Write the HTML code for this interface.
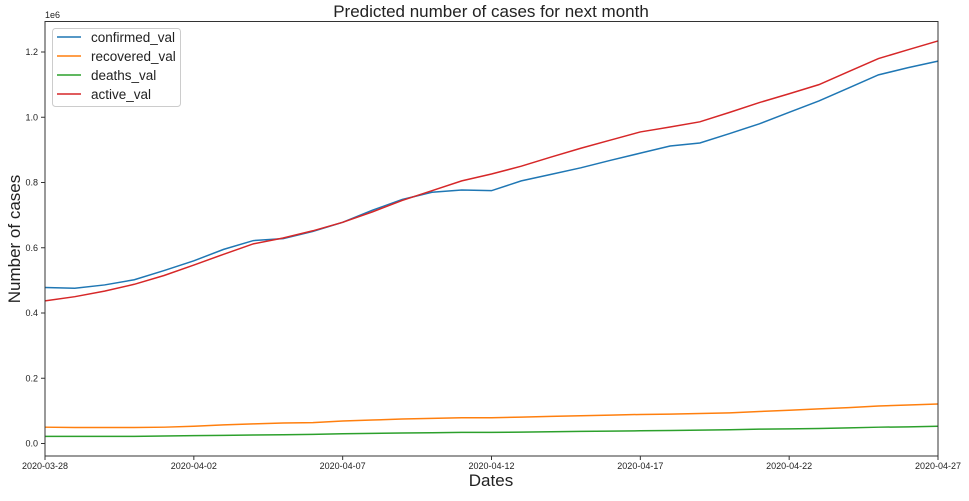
<!DOCTYPE html>
<html><head><meta charset="utf-8"><style>
body{margin:0;background:#fff;}
svg text{font-family:"Liberation Sans","DejaVu Sans",sans-serif;fill:#222;}
</style></head><body>
<svg id="chart" width="969" height="496" xmlns="http://www.w3.org/2000/svg">
<text x="491" y="17" text-anchor="middle" font-size="17">Predicted number of cases for next month</text>
<text x="491" y="486" text-anchor="middle" font-size="17">Dates</text>
<text transform="translate(20,239) rotate(-90)" text-anchor="middle" font-size="17">Number of cases</text>
<text x="45" y="18" font-size="9">1e6</text>
<g id="grid"></g>
<g id="series"></g>
<rect x="45" y="21.5" width="893" height="434.5" fill="none" stroke="#333" stroke-width="1"/>
<g>
<rect x="52.5" y="28.5" width="128" height="78" rx="3" fill="#fff" stroke="#ccc"/>
<g><line x1="57" y1="37" x2="81" y2="37" stroke="#1f77b4" stroke-width="1.5"/><text x="91" y="42" font-size="13.5">confirmed_val</text></g>
<g><line x1="57" y1="56" x2="81" y2="56" stroke="#ff7f0e" stroke-width="1.5"/><text x="91" y="61" font-size="13.5">recovered_val</text></g>
<g><line x1="57" y1="75" x2="81" y2="75" stroke="#2ca02c" stroke-width="1.5"/><text x="91" y="80" font-size="13.5">deaths_val</text></g>
<g><line x1="57" y1="94" x2="81" y2="94" stroke="#d62728" stroke-width="1.5"/><text x="91" y="99" font-size="13.5">active_val</text></g>
</g>
</svg>
<script>
const xTickLabels=["2020-03-28","2020-04-02","2020-04-07","2020-04-12","2020-04-17","2020-04-22","2020-04-27"];
const yTicks=[0,0.2,0.4,0.6,0.8,1.0,1.2];
const confirmed=[.478,.476,.486,.502,.53,.56,.595,.622,.628,.65,.678,.715,.748,.77,.777,.775,.79,.805,.825,.845,.868,.89,.912,.921,.95,.98,1.015,1.05,1.09,1.13,1.152,1.172];
const recovered=[.05,.049,.049,.049,.05,.053,.057,.06,.063,.064,.069,.072,.075,.077,.079,.079,.081,.083,.085,.087,.089,.09,.092,.094,.098,.102,.106,.11,.115,.118,.121];
const deaths=[.022,.022,.022,.022,.023,.024,.025,.026,.027,.028,.03,.031,.032,.033,.034,.034,.035,.036,.037,.038,.039,.04,.041,.042,.044,.045,.046,.048,.05,.051,.053];
const active=[.437,.45,.467,.488,.515,.547,.58,.612,.63,.652,.678,.71,.745,.775,.805,.826,.85,.878,.905,.93,.955,.97,.986,1.015,1.045,1.072,1.10,1.14,1.18,1.207,1.234];
confirmed.splice(16,1);
const NS="http://www.w3.org/2000/svg";
const X0=45,X1=938,nDays=30;
const xs=d=>X0+d*(X1-X0)/nDays;
const ys=v=>443.5-v*326.25;
const grid=document.getElementById('grid'),ser=document.getElementById('series');
yTicks.forEach(t=>{
 const l=document.createElementNS(NS,'line');
 
 
 l.setAttribute('x1',X0-4);l.setAttribute('x2',X0);l.setAttribute('y1',ys(t));l.setAttribute('y2',ys(t));l.setAttribute('stroke','#333');grid.appendChild(l);
 const tx=document.createElementNS(NS,'text');
 
 
 tx.setAttribute('x',X0-7);tx.setAttribute('y',ys(t)+3);tx.setAttribute('text-anchor','end');tx.setAttribute('font-size','9');tx.textContent=t.toFixed(1);grid.appendChild(tx);
});
xTickLabels.forEach((s,i)=>{
 const x=xs(i*5);
 const l=document.createElementNS(NS,'line');
 
 
 l.setAttribute('x1',x);l.setAttribute('x2',x);l.setAttribute('y1',456);l.setAttribute('y2',460);l.setAttribute('stroke','#333');grid.appendChild(l);
 const tx=document.createElementNS(NS,'text');
 
 
 tx.setAttribute('x',x);tx.setAttribute('y',469);tx.setAttribute('text-anchor','middle');tx.setAttribute('font-size','9');tx.textContent=s;grid.appendChild(tx);
});
[[confirmed,'#1f77b4','confirmed-line'],[recovered,'#ff7f0e','recovered-line'],[deaths,'#2ca02c','deaths-line'],[active,'#d62728','active-line']].forEach(([arr,c,n])=>{
 const p=document.createElementNS(NS,'polyline');
 
 
 p.setAttribute('points',arr.map((v,i)=>xs(i)+','+ys(v)).join(' '));
 p.setAttribute('fill','none');p.setAttribute('stroke',c);p.setAttribute('stroke-width','1.5');
 ser.appendChild(p);
});
</script>
</body></html>
